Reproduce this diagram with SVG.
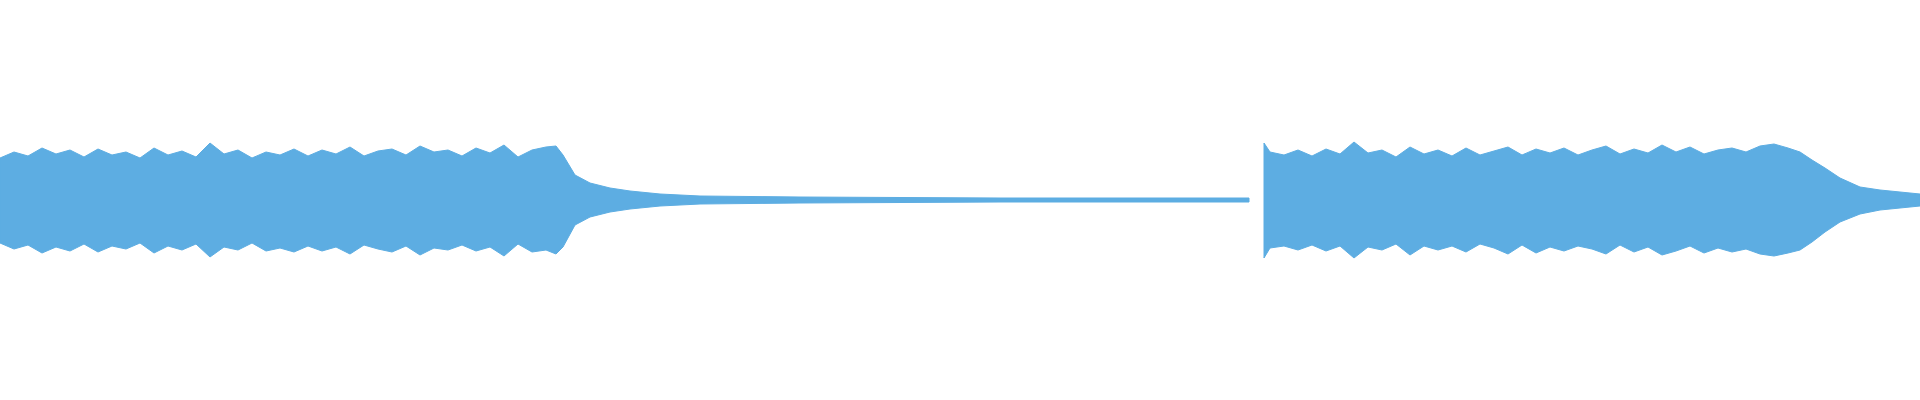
<svg xmlns="http://www.w3.org/2000/svg" width="1920" height="400" viewBox="0 0 1920 400">
<style>.w{fill:#5dade2;stroke:#5dade2;stroke-width:1;stroke-linejoin:miter}</style>
<rect width="1920" height="400" fill="#fff"/>
<path class="w" d="M0,158 L14,152 28,156 42,148 56,154 70,150 84,157 98,149 112,155 126,152 140,158 154,148 168,155 182,151 196,157 210,143 224,154 238,150 252,158 266,152 280,155 294,149 308,156 322,150 336,154 350,147 364,156 378,151 392,149 406,155 420,146 434,152 448,150 462,156 476,148 490,153 504,145 518,157 532,150 546,147 556,146 563,155 575,175 590,183 610,188 630,191 660,194 700,196 800,197 1000,198 1249,198 L1249,202 1000,202 800,203 700,204 660,206 630,209 610,212 590,217 575,225 563,247 556,254 546,250 532,252 518,244 504,256 490,247 476,251 462,245 448,250 434,248 420,255 406,246 392,252 378,249 364,245 350,254 336,247 322,251 308,246 294,252 280,248 266,251 252,243 238,250 224,247 210,257 196,244 182,250 168,246 154,253 140,243 126,249 112,246 98,252 84,244 70,251 56,247 42,253 28,245 14,249 0,243 Z"/>
<path class="w" d="M1264,143 L1270,152 1284,155 1298,150 1312,156 1326,149 1340,154 1354,142 1368,153 1382,150 1396,157 1410,147 1424,154 1438,150 1452,156 1466,148 1480,155 1494,151 1508,147 1522,155 1536,149 1550,153 1564,148 1578,155 1592,150 1606,146 1620,154 1634,149 1648,153 1662,145 1676,152 1690,147 1704,154 1718,150 1732,148 1746,152 1760,146 1774,144 1788,148 1800,152 1812,160 1825,168 1840,178 1860,187 1880,190 1900,192 1920,194 L1920,206 1900,208 1880,210 1860,214 1840,222 1825,232 1812,242 1800,250 1788,253 1774,256 1760,254 1746,249 1732,252 1718,248 1704,253 1690,246 1676,251 1662,255 1648,247 1634,252 1620,245 1606,254 1592,249 1578,246 1564,251 1550,247 1536,253 1522,245 1508,254 1494,248 1480,244 1466,252 1452,246 1438,250 1424,246 1410,255 1396,244 1382,250 1368,247 1354,258 1340,246 1326,251 1312,245 1298,250 1284,246 1270,248 1264,258 Z"/>
</svg>
